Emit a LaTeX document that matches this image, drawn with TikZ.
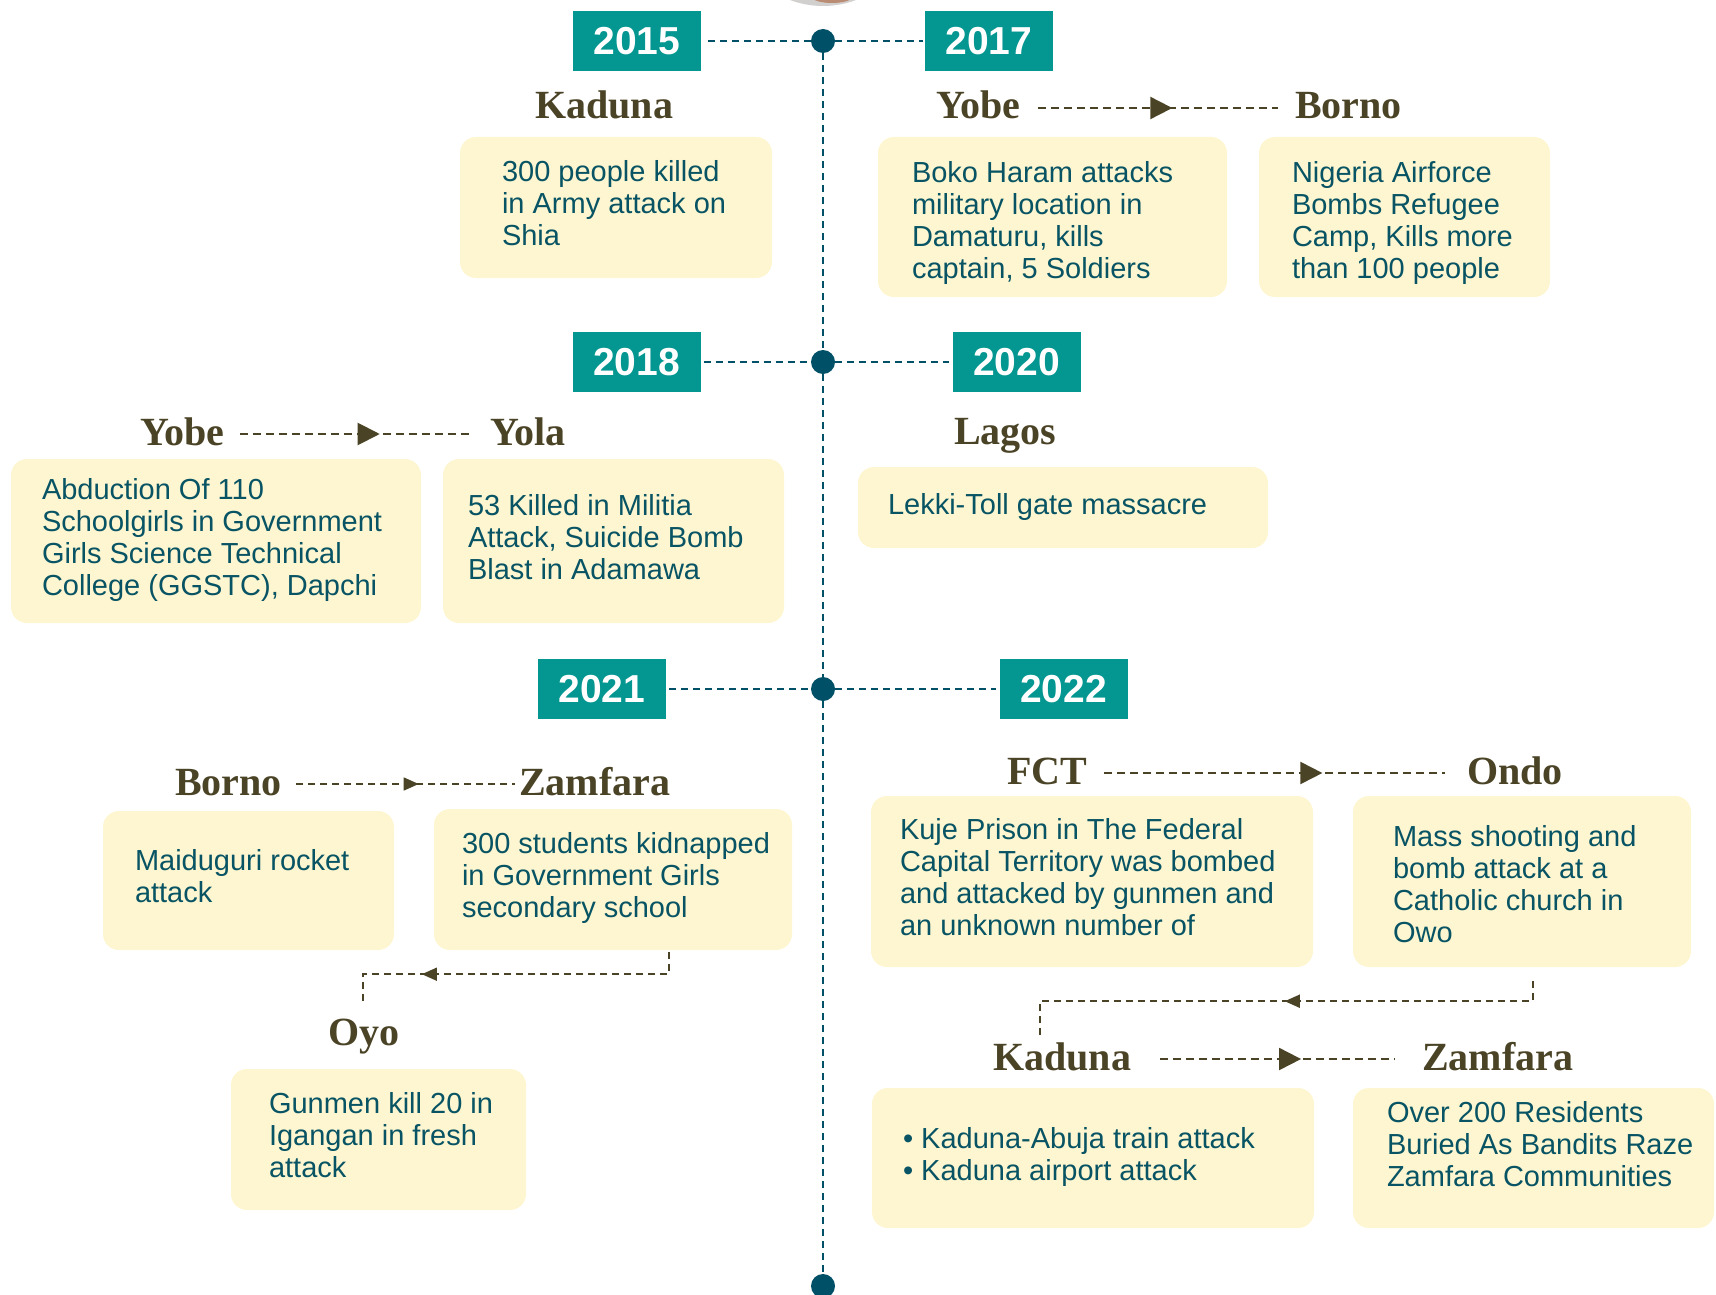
\documentclass[tikz,border=0pt]{standalone}
\usepackage{fontspec}
\setmainfont{Liberation Sans}
\newfontfamily\placefam{Liberation Serif}
\usetikzlibrary{arrows.meta,decorations.markings}
\definecolor{yearteal}{RGB}{4,150,144}
\definecolor{tline}{RGB}{0,80,104}
\definecolor{cardfill}{RGB}{254,246,208}
\definecolor{cardtext}{RGB}{8,84,100}
\definecolor{placecol}{RGB}{74,67,38}
\definecolor{photogrey}{RGB}{210,208,206}
\definecolor{photobrown}{RGB}{185,140,115}
\newcommand{\ctext}[3][0pt]{\makebox[#2][l]{\raisebox{#1}[\height][\depth]{\begin{tabular}{@{}l@{}}#3\end{tabular}}}}
\tikzset{
  yearbox/.style={fill=yearteal, text=white, font=\bfseries\fontsize{39}{44}\selectfont,
    minimum width=128pt, minimum height=60pt, inner sep=0pt},
  card/.style={fill=cardfill, rounded corners=16pt, inner sep=0pt, text=cardtext,
    font=\fontsize{29}{32}\selectfont},
  place/.style={font=\placefam\bfseries\fontsize{40}{44}\selectfont, text=placecol,
    text height=30pt, text depth=8pt, inner sep=0pt, anchor=base west},
  tl/.style={draw=tline, line width=2.5pt, dash pattern=on 7pt off 5pt},
  tdot/.style={circle, fill=tline, minimum size=24pt, inner sep=0pt},
  conn/.style={color=placecol, line width=2pt, dash pattern=on 8pt off 5pt},
  connthin/.style={color=placecol, line width=1.6pt, dash pattern=on 7pt off 5pt},
  midbig/.style={postaction={decorate}, decoration={markings,
    mark=at position #1 with {\arrow{Triangle[length=22pt,width=22pt]}}}},
  midsmall/.style={postaction={decorate}, decoration={markings,
    mark=at position #1 with {\arrow{Triangle[length=15pt,width=13pt]}}}}
}
\begin{document}
\begin{tikzpicture}[x=1pt,y=-1pt]
\useasboundingbox (0,0) rectangle (1716,1295);
% partial photo circle at top
\begin{scope}
\clip (0,0) rectangle (1716,1295);
\fill[photogrey] (823,-88) circle (94pt);
\fill[photobrown] (832,-3) ellipse (20pt and 6pt);
\end{scope}

% timeline dots
\node[tdot] (d1) at (823,41) {};
\node[tdot] (d2) at (823,362) {};
\node[tdot] (d3) at (823,689) {};
\node[tdot] (d4) at (823,1286) {};
\draw[tl] (d1) -- (d2);
\draw[tl] (d2) -- (d3);
\draw[tl] (d3) -- (d4);

% year boxes
\node[yearbox] (y15) at (637,41) {2015};
\node[yearbox] (y17) at (989,41) {2017};
\node[yearbox] (y18) at (636.5,362) {2018};
\node[yearbox] (y20) at (1016.5,362) {2020};
\node[yearbox] (y21) at (602,689) {2021};
\node[yearbox] (y22) at (1063.5,689) {2022};
\draw[tl, shorten <=7pt] (y15) -- (d1);
\draw[tl, shorten >=2pt] (d1) -- (y17);
\draw[tl, shorten <=3pt] (y18) -- (d2);
\draw[tl, shorten >=3pt] (d2) -- (y20);
\draw[tl, shorten <=3pt] (y21) -- (d3);
\draw[tl, shorten >=3pt] (d3) -- (y22);

% place names
\node[place] (kad15) at (535,119) {Kaduna};
\node[place] (yobe17) at (936,119) {Yobe};
\node[place] (borno17) at (1295,119) {Borno};
\node[place] (yobe18) at (140,445) {Yobe};
\node[place] (yola18) at (490,445) {Yola};
\node[place] (lagos20) at (954,444) {Lagos};
\node[place] (borno21) at (175,795) {Borno};
\node[place] (zamf21) at (519,795) {Zamfara};
\node[place] (oyo21) at (328,1045) {Oyo};
\node[place] (fct22) at (1007,784) {FCT};
\node[place] (ondo22) at (1467,784) {Ondo};
\node[place] (kad22) at (993,1070) {Kaduna};
\node[place] (zamf22) at (1422,1070) {Zamfara};

% cards
\node[card, minimum width=312pt, minimum height=141pt] (c15) at (616,207.5)
  {\ctext{228pt}{300 people killed\\in Army attack on\\Shia}};
\node[card, minimum width=349pt, minimum height=160pt] (c17a) at (1052.5,217)
  {\ctext[-7pt]{281pt}{Boko Haram attacks\\military location in\\Damaturu, kills\\captain, 5 Soldiers}};
\node[card, minimum width=291pt, minimum height=160pt] (c17b) at (1404.5,217)
  {\ctext[-7pt]{225pt}{Nigeria Airforce\\Bombs Refugee\\Camp, Kills more\\than 100 people}};
\node[card, minimum width=410pt, minimum height=164pt] (c18a) at (216,541)
  {\ctext{348pt}{Abduction Of 110\\Schoolgirls in Government\\Girls Science Technical\\College (GGSTC), Dapchi}};
\node[card, minimum width=341pt, minimum height=164pt] (c18b) at (613.5,541)
  {\ctext{291pt}{53 Killed in Militia\\Attack, Suicide Bomb\\Blast in Adamawa}};
\node[card, minimum width=410pt, minimum height=81pt] (c20) at (1063,507.5)
  {\ctext[-1pt]{350pt}{Lekki-Toll gate massacre}};
\node[card, minimum width=291pt, minimum height=139pt] (c21a) at (248.5,880.5)
  {\ctext{227pt}{Maiduguri rocket\\attack}};
\node[card, minimum width=358pt, minimum height=141pt] (c21b) at (613,879.5)
  {\ctext{302pt}{300 students kidnapped\\in Government Girls\\secondary school}};
\node[card, minimum width=295pt, minimum height=141pt] (c21c) at (378.5,1139.5)
  {\ctext{219pt}{Gunmen kill 20 in\\Igangan in fresh\\attack}};
\node[card, minimum width=442pt, minimum height=171pt] (c22a) at (1092,881.5)
  {\ctext{384pt}{Kuje Prison in The Federal\\Capital Territory was bombed\\and attacked by gunmen and\\an unknown number of}};
\node[card, minimum width=338pt, minimum height=171pt] (c22b) at (1522,881.5)
  {\ctext[-7pt]{258pt}{Mass shooting and\\bomb attack at a\\Catholic church in\\Owo}};
\node[card, minimum width=442pt, minimum height=140pt] (c22c) at (1093,1158)
  {\ctext{380pt}{• Kaduna-Abuja train attack\\• Kaduna airport attack}};
\node[card, minimum width=361pt, minimum height=140pt] (c22d) at (1533.5,1158)
  {\ctext[10pt]{293pt}{Over 200 Residents\\Buried As Bandits Raze\\Zamfara Communities}};

% connectors between places
\draw[conn, midbig=0.56] ([xshift=17pt]yobe17.east) -- ([xshift=-17pt]borno17.west);
\draw[conn, midbig=0.6] ([xshift=15pt]yobe18.east) -- ([xshift=-17pt]yola18.west);
\draw[connthin, midsmall=0.56] ([xshift=14pt]borno21.east) -- ([xshift=-4pt]zamf21.west);
\draw[conn, midbig=0.64] ([xshift=17pt]fct22.east) -- ([xshift=-22pt]ondo22.west);
\draw[conn, midbig=0.6] ([xshift=29pt]kad22.east) -- ([xshift=-27pt]zamf22.west);

% elbow connectors
\draw[connthin, midsmall=0.75] ([xshift=56pt,yshift=-2pt]c21b.south) -- ++(0,22)
  -| ([xshift=-1pt,yshift=10pt]oyo21.north);
\draw[connthin, midsmall=0.49] ([xshift=11pt,yshift=-14pt]c22b.south) -- ++(0,20)
  -| ([xshift=-22pt,yshift=4pt]kad22.north);
\end{tikzpicture}
\end{document}
